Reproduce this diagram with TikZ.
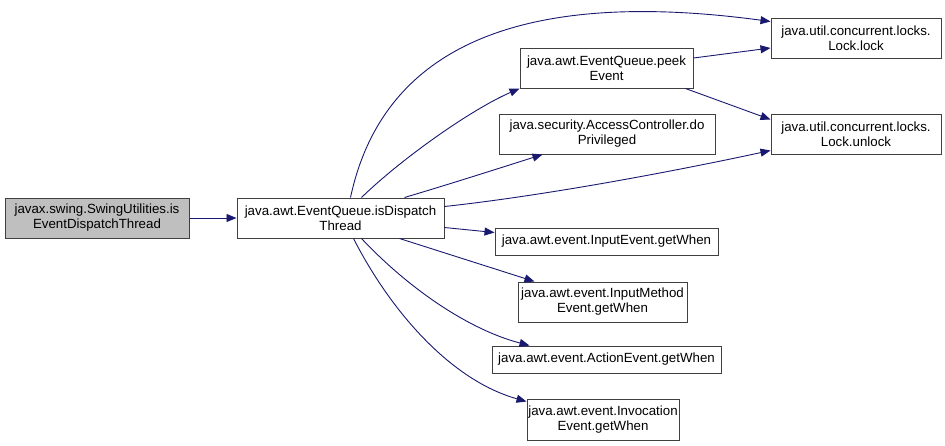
\documentclass[tikz,border=0pt]{standalone}
\usepackage{fontspec}
\setmainfont{Liberation Sans}
\usetikzlibrary{arrows.meta}
\definecolor{edgec}{HTML}{191970}
\definecolor{boxc}{HTML}{404040}
\definecolor{fillc}{HTML}{BFBFBF}
\tikzset{
  fn/.style={draw=boxc, line width=1pt, fill=white, align=center, inner sep=0pt,
    font=\fontsize{13.3}{15}\selectfont, anchor=center},
  cur/.style={fn, fill=fillc},
  call/.style={draw=edgec, line width=0.9pt, -{Triangle[length=10pt,width=8pt]}},
}
\begin{document}
\begin{tikzpicture}[x=1pt,y=-1pt]
\useasboundingbox (0,0) rectangle (945,445);
\node[cur, minimum width=184pt, minimum height=40pt] (A) at (97,218) {javax.swing.SwingUtilities.is\\EventDispatchThread};
\node[fn, minimum width=207pt, minimum height=40pt] (B) at (340.5,218) {java.awt.EventQueue.isDispatch\\Thread};
\node[fn, minimum width=173pt, minimum height=40pt] (C) at (606.5,68) {java.awt.EventQueue.peek\\Event};
\node[fn, minimum width=170pt, minimum height=40pt] (D) at (856,38) {java.util.concurrent.locks.\\Lock.lock};
\node[fn, minimum width=216pt, minimum height=40pt] (E) at (607,134) {java.security.AccessController.do\\Privileged};
\node[fn, minimum width=170pt, minimum height=40pt] (F) at (856,134) {java.util.concurrent.locks.\\Lock.unlock};
\node[fn, minimum width=223pt, minimum height=27pt] (G) at (606.5,241.5) {java.awt.event.InputEvent.getWhen};
\node[fn, minimum width=169pt, minimum height=40pt] (H) at (602.5,302) {java.awt.event.InputMethod\\Event.getWhen};
\node[fn, minimum width=229pt, minimum height=27pt] (I) at (606.5,359.5) {java.awt.event.ActionEvent.getWhen};
\node[fn, minimum width=152pt, minimum height=41pt] (J) at (603,419.5) {java.awt.event.Invocation\\Event.getWhen};

\draw[call] (A.east) -- (B.west);
\draw[call] ([xshift=114pt]B.north west) .. controls (380,60) and (500,-15) .. ([yshift=-4pt]D.north west);
\draw[call] ([xshift=125pt]B.north west) .. controls (400,160) and (470,110) .. (C.south west);
\draw[call] ([xshift=168pt]B.north west) .. controls (450,184) and (500,168) .. ([xshift=44pt]E.south west);
\draw[call] ([yshift=-9pt]B.north east) .. controls (550,195) and (680,170) .. ([yshift=4pt]F.south west);
\draw[call] ([yshift=11pt]B.south east) -- ([yshift=9pt]G.west);
\draw[call] ([xshift=163pt]B.south west) -- ([xshift=17pt]H.north west);
\draw[call] ([xshift=125pt]B.south west) .. controls (410,290) and (470,330) .. ([xshift=38pt]I.north west);
\draw[call] ([xshift=117pt]B.south west) .. controls (390,310) and (450,380) .. ([yshift=-3pt]J.north west);
\draw[call] ([yshift=10pt]C.east) -- ([yshift=-10pt]D.west);
\draw[call] ([xshift=-8pt]C.south east) -- ([yshift=-6pt]F.north west);
\end{tikzpicture}
\end{document}
